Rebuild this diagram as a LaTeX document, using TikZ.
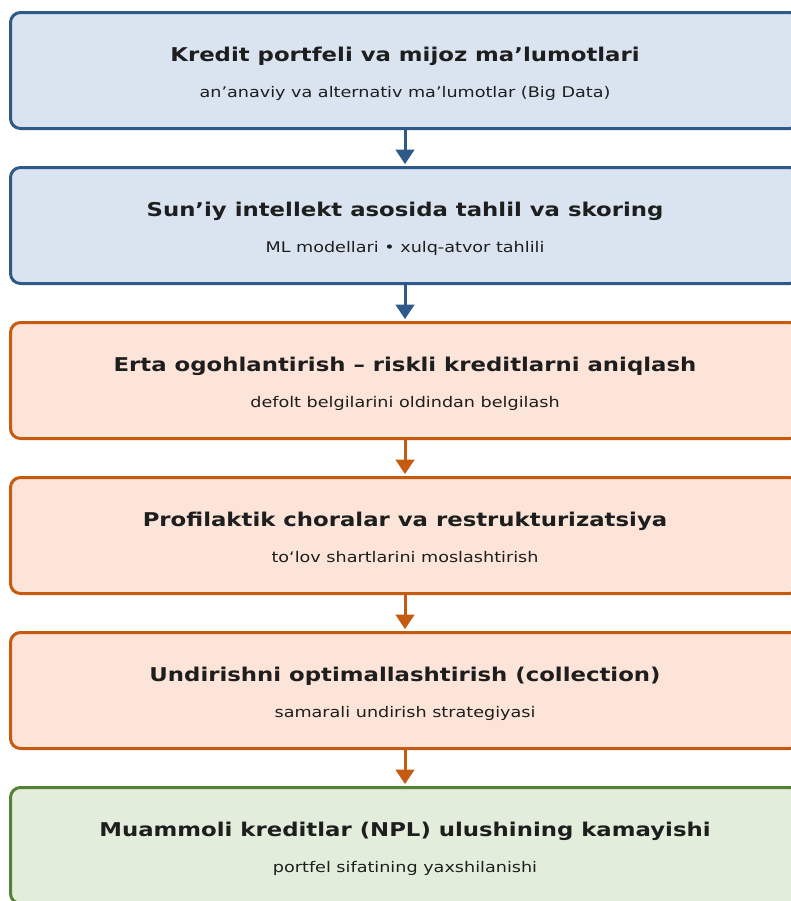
\documentclass[tikz,border=0pt]{standalone}
\usepackage{fontspec}
\setmainfont{DejaVu Sans}
\newfontfamily\widefont[FakeStretch=1.2]{DejaVu Sans}
\usepackage{xcolor}
\usetikzlibrary{positioning,arrows.meta}

\definecolor{blueline}{HTML}{2E5A8A}
\definecolor{bluefill}{HTML}{DAE4F1}
\definecolor{orangeline}{HTML}{C55A11}
\definecolor{orangefill}{HTML}{FCE4D8}
\definecolor{greenline}{HTML}{548235}
\definecolor{greenfill}{HTML}{E2EEDB}
\definecolor{textdark}{HTML}{1E1E1E}

\begin{document}
\begin{tikzpicture}[x=0.75pt,y=0.75pt,
    stage/.style={draw, line width=2.25pt, rounded corners=7.5pt, outer sep=0pt,
        minimum width=591.75pt, minimum height=87pt, inner sep=0pt},
    bluebox/.style={stage, draw=blueline, fill=bluefill},
    orangebox/.style={stage, draw=orangeline, fill=orangefill},
    greenbox/.style={stage, draw=greenline, fill=greenfill},
    title/.style={anchor=base, text=textdark, font=\widefont\bfseries\fontsize{14.25}{17}\selectfont},
    subtitle/.style={anchor=base, text=textdark, font=\widefont\fontsize{11}{14}\selectfont},
    flow/.style={line width=2.25pt, -{Triangle[length=11pt,width=14pt]}, shorten >=2.5pt},
    node distance=29.25pt]

    \useasboundingbox (0,0) rectangle (791,-901);

    % Stages
    \node[bluebox] (data) at (405,-70.5) {};
    \node[bluebox, below=of data] (ai) {};
    \node[orangebox, below=of ai] (warn) {};
    \node[orangebox, below=of warn] (prevent) {};
    \node[orangebox, below=of prevent] (collect) {};
    \node[greenbox, below=of collect] (npl) {};

    % Texts
    \node[title] (data-t) at ([yshift=6.4pt]data.center) {Kredit portfeli va mijoz ma’lumotlari};
    \node[subtitle] (data-s) at ([yshift=-20.25pt]data.center) {an’anaviy va alternativ ma’lumotlar (Big Data)};
    \node[title] (ai-t) at ([yshift=6.4pt]ai.center) {Sun’iy intellekt asosida tahlil va skoring};
    \node[subtitle] (ai-s) at ([yshift=-20.25pt]ai.center) {ML modellari • xulq-atvor tahlili};
    \node[title] (warn-t) at ([yshift=6.4pt]warn.center) {Erta ogohlantirish – riskli kreditlarni aniqlash};
    \node[subtitle] (warn-s) at ([yshift=-20.25pt]warn.center) {defolt belgilarini oldindan belgilash};
    \node[title] (prevent-t) at ([yshift=6.4pt]prevent.center) {Profilaktik choralar va restrukturizatsiya};
    \node[subtitle] (prevent-s) at ([yshift=-20.25pt]prevent.center) {to‘lov shartlarini moslashtirish};
    \node[title] (collect-t) at ([yshift=6.4pt]collect.center) {Undirishni optimallashtirish (collection)};
    \node[subtitle] (collect-s) at ([yshift=-20.25pt]collect.center) {samarali undirish strategiyasi};
    \node[title] (npl-t) at ([yshift=6.4pt]npl.center) {Muammoli kreditlar (NPL) ulushining kamayishi};
    \node[subtitle] (npl-s) at ([yshift=-20.25pt]npl.center) {portfel sifatining yaxshilanishi};

    % Arrows
    \draw[flow, blueline] (data) -- (ai);
    \draw[flow, blueline] (ai) -- (warn);
    \draw[flow, orangeline] (warn) -- (prevent);
    \draw[flow, orangeline] (prevent) -- (collect);
    \draw[flow, orangeline] (collect) -- (npl);
\end{tikzpicture}
\end{document}
